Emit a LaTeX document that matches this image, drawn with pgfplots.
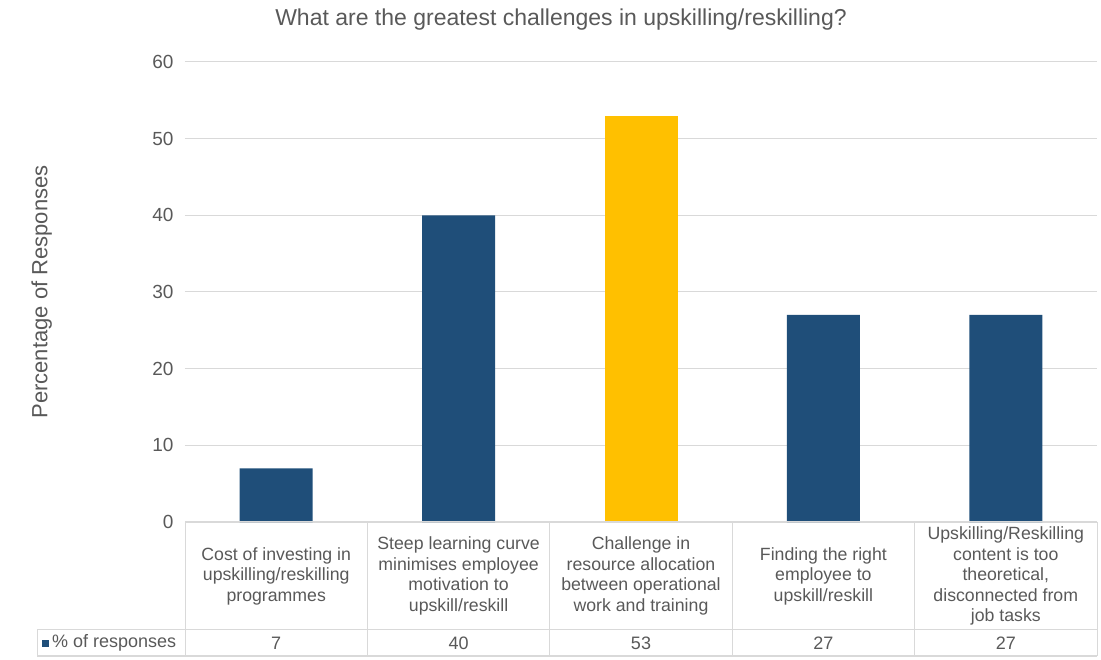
\documentclass[border=0pt]{standalone}
\usepackage{pgfplots}
\pgfplotsset{compat=1.18}
\usepackage{fontspec}
\setmainfont{Liberation Sans}
\definecolor{barblue}{HTML}{1F4E79}
\definecolor{baryellow}{HTML}{FFC000}
\definecolor{txt}{HTML}{595959}
\definecolor{gridc}{HTML}{D9D9D9}
\begin{document}
\begin{tikzpicture}[x=1pt,y=1pt]
\useasboundingbox (0,0) rectangle (1101,659);
\node[text=txt,font=\fontsize{23}{27}\selectfont] at (561,639) {What are the greatest challenges in upskilling/reskilling?};
\begin{axis}[
  at={(185pt,137pt)}, anchor=south west,
  scale only axis, width=912pt, height=460pt,
  ybar, bar width=73pt,
  xmin=-0.5, xmax=4.5, ymin=0, ymax=60,
  ytick={0,10,...,60},
  xtick={0,1,2,3,4},
  xticklabels={{Cost of investing in\\upskilling/reskilling\\programmes},
    {Steep learning curve\\minimises employee\\motivation to\\upskill/reskill},
    {Challenge in\\resource allocation\\between operational\\work and training},
    {Finding the right\\employee to\\upskill/reskill},
    {Upskilling/Reskilling\\content is too\\theoretical,\\disconnected from\\job tasks}},
  xticklabel style={align=center, anchor=center, yshift=-54pt,
    font=\fontsize{17.7}{20.5}\selectfont, text=txt},
  yticklabel style={font=\fontsize{19}{22}\selectfont, text=txt, xshift=-8pt},
  /pgf/number format/assume math mode=true,
  ymajorgrids, major grid style={draw=gridc, line width=1pt},
  axis line style={draw=none},
  major tick length=0pt,
  ylabel={Percentage of Responses},
  every axis y label/.style={at={(axis description cs:-0.157,0.5)}, rotate=90, anchor=center,
    font=\fontsize{22}{26}\selectfont, text=txt},
  clip=false,
]
\addplot[fill=barblue, draw=none, bar shift=0pt] coordinates {(0,7) (1,40) (3,27) (4,27)};
\addplot[fill=baryellow, draw=none, bar shift=0pt] coordinates {(2,53)};
\end{axis}
% data table
\begin{scope}[draw=gridc, line width=1pt]
\draw (185,137) -- (1097,137);
\draw (37,29) -- (1097,29);
\draw (37,3) -- (1097,3);
\draw (37,3) -- (37,29);
\foreach \xx in {185,367.4,549.8,732.2,914.6,1097} {\draw (\xx,137) -- (\xx,3);}
\end{scope}
\fill[barblue] (42,12) rectangle (49,19);
\node[anchor=west, text=txt, font=\fontsize{18}{21}\selectfont, inner sep=0pt] at (52,16) {\% of responses};
\foreach \xx/\v in {276.2/7,458.6/40,641/53,823.4/27,1005.8/27} {
  \node[text=txt, font=\fontsize{18}{21}\selectfont] at (\xx,16) {\v};
}
\end{tikzpicture}
\end{document}
